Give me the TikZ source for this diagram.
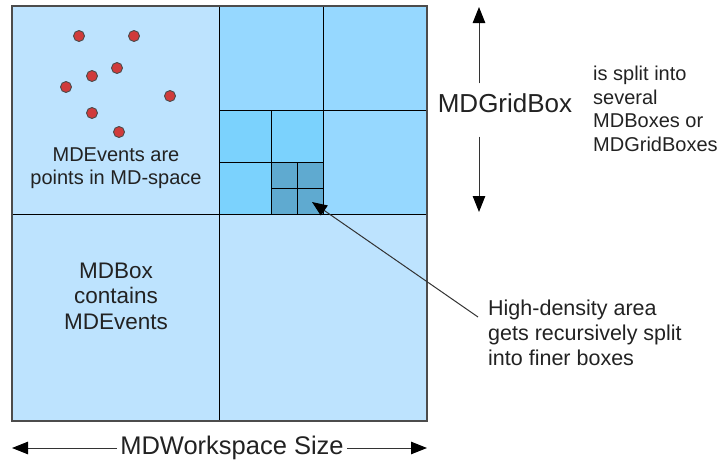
\documentclass[tikz,border=0pt]{standalone}
\usepackage{fontspec}
\setmainfont{Liberation Sans}
\usetikzlibrary{arrows.meta,positioning,calc}

\definecolor{boxpale}{HTML}{BDE3FE}
\definecolor{boxgrid}{HTML}{96D8FF}
\definecolor{boxmid}{HTML}{7BD2FD}
\definecolor{boxdeep}{HTML}{5FAAD0}
\definecolor{eventred}{HTML}{D03B3B}
\definecolor{inktext}{HTML}{222222}

\begin{document}
\begin{tikzpicture}[x=1pt, y=-1pt, every node/.style={text=inktext, inner sep=0pt},
		event/.style={circle, draw=black!70, fill=eventred, line width=0.9pt, minimum size=11pt},
		dimarrow/.style={draw=black!80, line width=1pt, -{Triangle[length=16pt,width=12.5pt,color=black,fill=black]}}]
				\useasboundingbox (0,0) rectangle (721,461);
				% cells of the workspace
				\fill[boxpale] (12,6) rectangle (427,421);
				\fill[boxgrid] (219,6) rectangle (427,214);
				\fill[boxmid] (219,110) rectangle (323,214);
				\fill[boxdeep] (271,162) rectangle (323,214);
				\draw[line width=0.9pt] (219,6) -- (219,421);
				\draw[line width=0.9pt] (12,214) -- (427,214);
				\draw[line width=0.9pt] (323,6) -- (323,214);
				\draw[line width=0.9pt] (219,110) -- (427,110);
				\draw[line width=0.9pt] (271,110) -- (271,214);
				\draw[line width=0.9pt] (219,162) -- (323,162);
				\draw[line width=0.9pt] (297,162) -- (297,214);
				\draw[line width=0.9pt] (271,188) -- (323,188);
				\draw[line width=1.5pt, black!70] (12,6) rectangle (427,421);
				
				% events
				\foreach \x/\y [count=\i] in {79/36, 134/36, 117/68, 92/76, 66/87, 170/96, 92/113, 119/132}
					\node[event] (e\i) at (\x,\y) {};
				
				\node[align=center, font=\fontsize{20}{23}\selectfont] (evt) at (116,168) {MDEvents are\\points in MD-space};
				\node[align=center, font=\fontsize{22.5}{25.5}\selectfont] (mdbox) at (116,296) {MDBox\\contains\\MDEvents};
				
				% grid box size
				\node[font=\fontsize{26}{30}\selectfont] (gb) at (505,103) {MDGridBox};
				\node[align=left, anchor=west, font=\fontsize{20}{23.5}\selectfont] (split) at (593,109) {is split into\\several\\MDBoxes or\\MDGridBoxes};
				\coordinate (gbtop) at (479,7);
				\coordinate (gbbot) at (479,212);
				\draw[dimarrow] ([yshift=10pt]gb.north -| gbtop) -- (gbtop);
				\draw[dimarrow] ([yshift=-24pt]gb.south -| gbbot) -- (gbbot);
				
				% workspace size
				\node[inner xsep=3pt, font=\fontsize{25.5}{30}\selectfont] (ws) at (232,448) {MDWorkspace Size};
				\coordinate (wsleft) at (12,448);
				\coordinate (wsright) at (427,448);
				\draw[dimarrow] (ws.west) -- (wsleft);
				\draw[dimarrow] (ws.east) -- (wsright);
				
				% high density
				\node[align=left, anchor=west, font=\fontsize{21.5}{25}\selectfont] (hd) at (488,333) {High-density area\\gets recursively split\\into finer boxes};
				\coordinate (dense) at (312,202);
				\draw[draw=black!80, line width=1pt, -{Triangle[length=15pt,width=12pt,color=black,fill=black]}] ([shift={(-10,-16)}]hd.west) -- (dense);
			\end{tikzpicture}
\end{document}
